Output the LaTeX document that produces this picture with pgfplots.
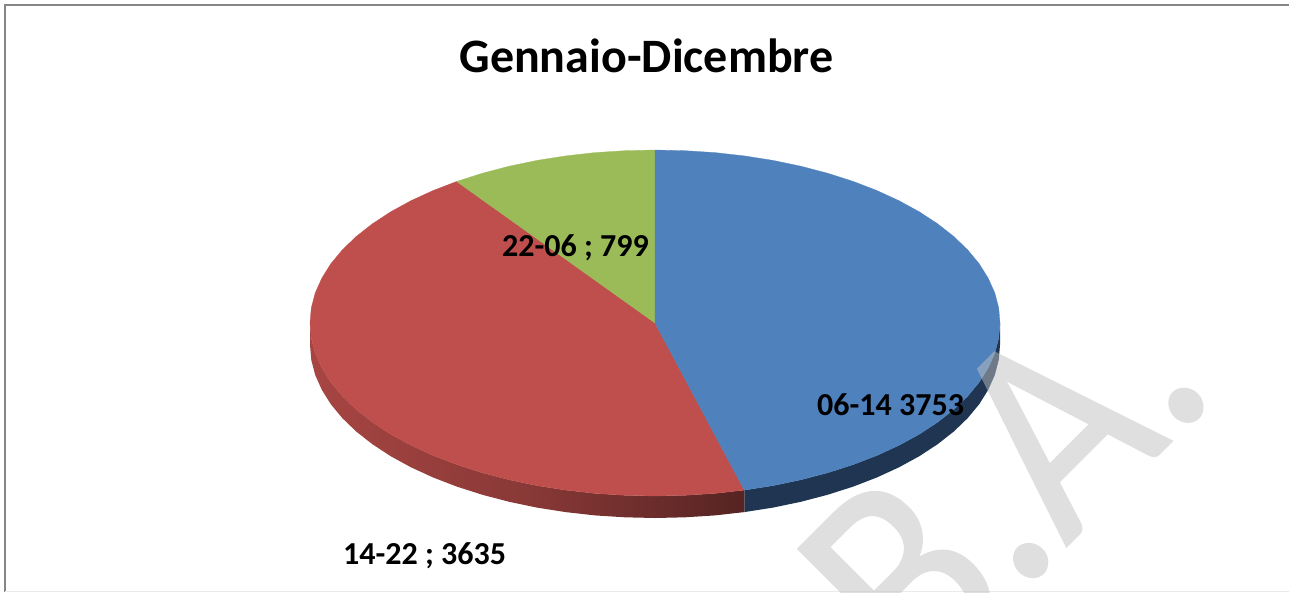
\documentclass[border=0pt]{standalone}
\usepackage{pgfplots}
\pgfplotsset{compat=1.18}
\usepackage{fontspec}
\setmainfont{Carlito}
\newfontfamily\wmfont[FakeBold=0.7]{Carlito}
\definecolor{pblue}{HTML}{4F81BD}
\definecolor{pred}{HTML}{BE4F4C}
\definecolor{pgreen}{HTML}{9BBB59}
\definecolor{sblue}{HTML}{1F3551}
\definecolor{frameg}{HTML}{868686}
\definecolor{wm}{HTML}{C0C0C0}
\begin{document}
\begin{tikzpicture}[x=1pt,y=1pt]
\useasboundingbox (0,0) rectangle (1289,592);
\clip (0,0) rectangle (1289,592);
\begin{axis}[at={(0,0)},anchor=south west,scale only axis,width=1289pt,height=592pt,
  xmin=0,xmax=1289,ymin=0,ymax=592,y dir=reverse,axis lines=none,clip=false]
% frame
\addplot[draw=frameg,line width=2pt] coordinates {(4.5,592) (4.5,4.5) (1289,4.5)};
\addplot[draw=black!8,line width=1pt] coordinates {(4.5,591) (1289,591)};
% sides
\addplot[draw=none,fill=sblue] coordinates {(1000,323) (998.7,338.1) (994.8,353) (988.2,367.8) (979.2,382.2) (967.7,396.1) (953.8,409.5) (937.6,422.2) (919.3,434.2) (899,445.3) (876.8,455.5) (852.9,464.7) (827.5,472.8) (800.8,479.8) (773,485.6) (744.3,490.1)
 (744.3,512.1) (773,507.6) (800.8,501.8) (827.5,494.8) (852.9,486.7) (876.8,477.5) (899,467.3) (919.3,456.2) (937.6,444.2) (953.8,431.5) (967.7,418.1) (979.2,404.2) (988.2,389.8) (994.8,375) (998.7,360.1) (1000,345)};
\addplot[draw=none,left color=pred!88!black,right color=pred!45!black,middle color=pred!72!black] coordinates {(744.3,490.1) (714.9,493.4) (685.1,495.3) (655,496) (624.9,495.3) (595.1,493.4) (565.7,490.1) (537,485.6) (509.2,479.8) (482.5,472.8) (457.1,464.7) (433.2,455.5) (411,445.3) (390.7,434.2) (372.4,422.2) (356.2,409.5) (342.3,396.1) (330.8,382.2) (321.8,367.8) (315.2,353) (311.3,338.1) (310,323)
 (310,345) (311.3,360.1) (315.2,375) (321.8,389.8) (330.8,404.2) (342.3,418.1) (356.2,431.5) (372.4,444.2) (390.7,456.2) (411,467.3) (433.2,477.5) (457.1,486.7) (482.5,494.8) (509.2,501.8) (537,507.6) (565.7,512.1) (595.1,515.4) (624.9,517.3) (655,518) (685.1,517.3) (714.9,515.4) (744.3,512.1)};
% tops
\addplot[draw=pred,fill=pred,line width=.3pt] coordinates {(655,323) (744.3,490.1) (714.9,493.4) (685.1,495.3) (655,496) (624.9,495.3) (595.1,493.4) (565.7,490.1) (537,485.6) (509.2,479.8) (482.5,472.8) (457.1,464.7) (433.2,455.5) (411,445.3) (390.7,434.2) (372.4,422.2) (356.2,409.5) (342.3,396.1) (330.8,382.2) (321.8,367.8) (315.2,353) (311.3,338.1) (310,323) (311.3,307.9) (315.2,293) (321.8,278.2) (330.8,263.8) (342.3,249.9) (356.2,236.5) (372.4,223.8) (390.7,211.8) (411,200.7) (433.2,190.5) (456.6,181.5) (655,323)};
\addplot[draw=pgreen,fill=pgreen,line width=.3pt] coordinates {(655,323) (456.6,181.5) (482.5,173.2) (509.2,166.2) (537,160.4) (565.7,155.9) (595.1,152.6) (624.9,150.7) (655,150) (655,323)};
\addplot[draw=pblue,fill=pblue,line width=.3pt] coordinates {(655,323) (655,150) (685.1,150.7) (714.9,152.6) (744.3,155.9) (773,160.4) (800.8,166.2) (827.5,173.2) (852.9,181.3) (876.8,190.5) (899,200.7) (919.3,211.8) (937.6,223.8) (953.8,236.5) (967.7,249.9) (979.2,263.8) (988.2,278.2) (994.8,293) (998.7,307.9) (1000,323) (998.7,338.1) (994.8,353) (988.2,367.8) (979.2,382.2) (967.7,396.1) (953.8,409.5) (937.6,422.2) (919.3,434.2) (899,445.3) (876.8,455.5) (852.9,464.7) (827.5,472.8) (800.8,479.8) (773,485.6) (744.3,490.1) (655,323)};
% text
\node[anchor=base,font=\fontsize{48}{52}\selectfont\bfseries] at (axis cs:646.5,72) {Gennaio-Dicembre};
\node[anchor=base west,inner sep=0pt,font=\fontsize{32}{36}\selectfont\bfseries] at (axis cs:502,256) {22-06 ; 799};
\node[anchor=base west,inner sep=0pt,font=\fontsize{32}{36}\selectfont\bfseries] at (axis cs:817,415) {06-14 3753};
\node[anchor=base west,inner sep=0pt,font=\fontsize{32}{36}\selectfont\bfseries] at (axis cs:343,564) {14-22 ; 3635};
% watermark
\begin{scope}[transparency group,opacity=.5]
\node[anchor=base west,inner sep=0pt,rotate=45,text=wm,font=\wmfont\fontsize{293}{300}\selectfont] at (axis cs:918,695) {\scalebox{.89}[1]{B.A.}};
\end{scope}
\end{axis}
\end{tikzpicture}
\end{document}
